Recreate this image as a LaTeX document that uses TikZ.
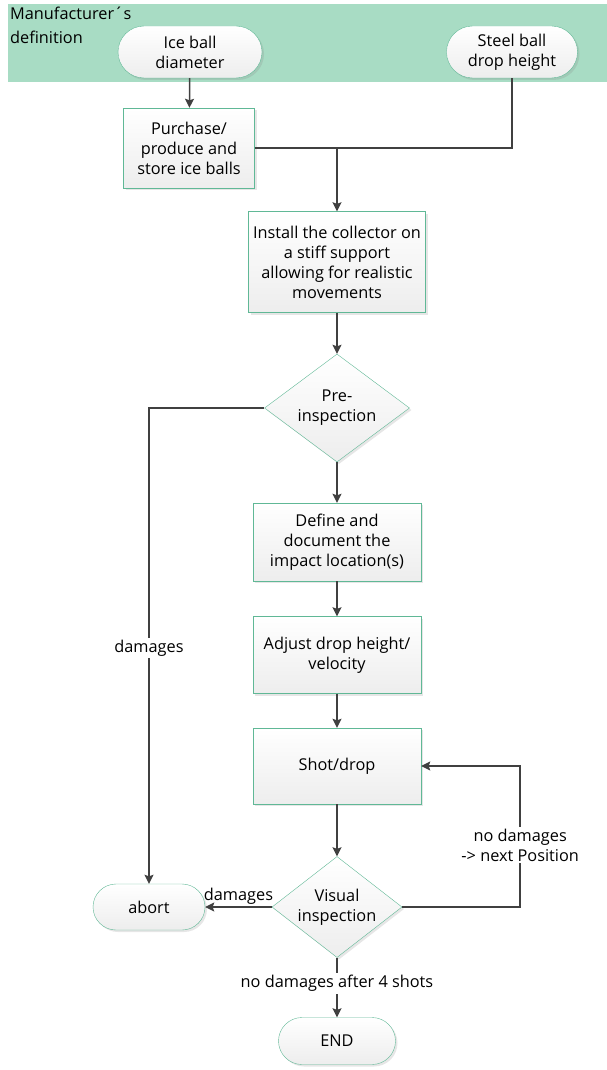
\documentclass[tikz,border=0pt]{standalone}
\usepackage{fontspec}
\setmainfont{Open Sans}
\usepackage{tikz}
\usetikzlibrary{shapes.geometric, shapes.misc, arrows.meta, positioning, shadows}
\definecolor{bandgreen}{RGB}{168, 220, 196}
\definecolor{edgegreen}{RGB}{96, 184, 150}
\definecolor{flowgray}{RGB}{64, 64, 64}

\begin{document}
\begin{tikzpicture}[x=1pt, y=-1pt,
    process/.style={rectangle, draw=edgegreen, top color=white, bottom color=black!7, inner sep=0pt,
                    drop shadow={opacity=0.2, shadow xshift=2pt, shadow yshift=-2pt},
                    font=\fontsize{16.3}{20}\selectfont, align=center},
    terminal/.style={process, rounded rectangle},
    decision/.style={process, diamond, aspect=1.3},
    flow/.style={draw=flowgray, line width=1.5pt},
    arrow/.style={flow, -{Stealth[length=9pt, width=9pt, inset=1.5pt]}},
    flowlabel/.style={fill=white, inner sep=2pt, font=\fontsize{16.3}{20}\selectfont, align=center}
]
\useasboundingbox (0,0) rectangle (607,1070);

% Manufacturer band
\fill[bandgreen] (8,4) rectangle (607,82);
\node[anchor=north west, inner sep=0pt, font=\fontsize{16.3}{24}\selectfont, align=left] (band) at (10,7)
    {Manufacturer´s\\definition};

% Inputs
\node[terminal, minimum width=144pt, minimum height=52pt] (ice) at (190,52) {Ice ball\\diameter};
\node[terminal, minimum width=131pt, minimum height=52pt] (steel) at (512,52) {Steel ball\\drop height};

% Preparation
\node[process, minimum width=131pt, minimum height=80pt] (purchase) at (189,148) {Purchase/\\produce and\\store ice balls};
\node[process, minimum width=177pt, minimum height=101pt] (install) at (337,262)
    {Install the collector on\\a stiff support\\allowing for realistic\\movements};

% Pre-inspection
\node[decision, minimum width=145pt, minimum height=108pt] (pre) at (337,408) {Pre-\\inspection};

% Test steps
\node[process, minimum width=168pt, minimum height=78pt] (define) at (337,542) {Define and\\document the\\impact location(s)};
\node[process, minimum width=168pt, minimum height=77pt] (adjust) at (337,655) {Adjust drop height/\\velocity};
\node[process, minimum width=168pt, minimum height=76pt] (shot) at (337,766) {Shot/drop};

% Visual inspection
\node[decision, minimum width=130pt, minimum height=101pt] (visual) at (337,907) {Visual\\inspection};

% Ends
\node[terminal, minimum width=112pt, minimum height=46pt] (abort) at (149,907) {abort};
\node[terminal, minimum width=117pt, minimum height=47pt] (end) at (337,1041) {END};

% Arrows
\draw[arrow] (ice) -- (purchase);
\coordinate (join) at (purchase.east -| install.north);
\draw[flow] (purchase.east) -| (steel.south);
\draw[arrow] (join) -- (install);
\draw[arrow] (install) -- (pre);
\draw[arrow] (pre) -- (define);
\draw[arrow] (define) -- (adjust);
\draw[arrow] (adjust) -- (shot);
\draw[arrow] (shot) -- (visual);

\draw[arrow] (pre.west) -| (abort.north)
    node[flowlabel, pos=0.752] {damages};
\draw[arrow] (visual.west) -- (abort.east)
    node[above=2pt, midway, inner sep=0pt, font=\fontsize{16.3}{20}\selectfont] {damages};
\draw[arrow] (visual.east) -- ++(118,0) |- (shot.east)
    node[flowlabel, pos=0.22] {no damages\\-> next Position};
\draw[arrow] (visual.south) -- (end.north)
    node[flowlabel, midway, yshift=4pt] {no damages after 4 shots};

\end{tikzpicture}
\end{document}
